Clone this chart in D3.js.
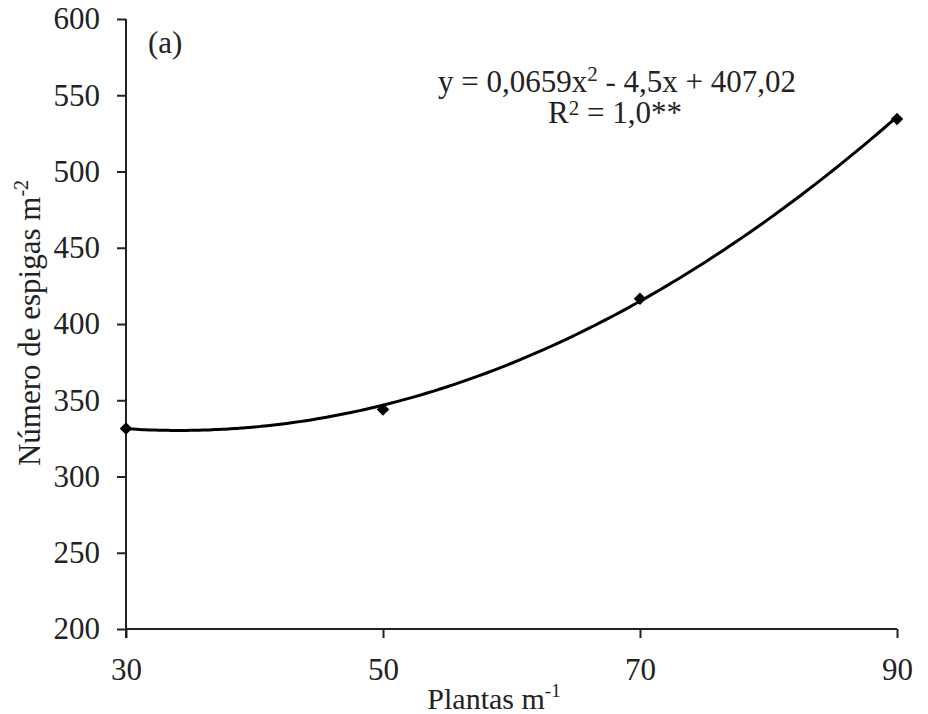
<!DOCTYPE html>
<html>
<head>
<meta charset="utf-8">
<script src="https://cdn.jsdelivr.net/npm/d3@7"></script>
<style>
  body { margin: 0; background: #fff; }
  svg text { font-family: "Liberation Serif", "Times New Roman", serif; fill: #222; }
</style>
</head>
<body>
<div id="chart"></div>
<script>
// observed values
var plantas = [30, 50, 70, 90];
var espigas = [331.5, 344, 416.5, 534.5];

// quadratic fit shown on chart: y = a x^2 + b x + c
var fitCoef = [0.0659, -4.5, 407.02];

var xTicks = [30, 50, 70, 90];
var yTicks = [200, 250, 300, 350, 400, 450, 500, 550, 600];

var width = 928;
var height = 714;
var margin = {left: 126, right: 31, top: 19, bottom: 85};

var svg = d3.select("#chart")
            .append("svg")
            .attr("width", width)
            .attr("height", height);

var x = d3.scaleLinear()
          .domain([30, 90])
          .range([margin.left, width - margin.right]);
var y = d3.scaleLinear()
          .domain([200, 600])
          .range([height - margin.bottom, margin.top]);

// axes
var xAxis = d3.axisBottom(x).tickValues(xTicks).tickSize(9).tickSizeOuter(0).tickPadding(20);
var yAxis = d3.axisLeft(y).tickValues(yTicks).tickSize(9).tickSizeOuter(0).tickPadding(17);

var gx = svg.append("g")
            .attr("transform", "translate(0," + y(200) + ")")
            .call(xAxis);
var gy = svg.append("g")
            .attr("transform", "translate(" + x(30) + ",0)")
            .call(yAxis);

[gx, gy].forEach(function(g) {
  g.selectAll("path, line").attr("stroke", "#222").attr("stroke-width", 2);
  g.selectAll("text").style("font-size", "31px").attr("fill", "#222");
});
gy.select(".domain").attr("d", "M0," + y(600) + "V" + (y(200) + 9));
gx.select(".domain").attr("d", "M" + x(30) + ",0H" + x(90));

// fitted curve
var curvePts = d3.range(30, 90.01, 0.5).map(function(v) {
  return [v, fitCoef[0] * v * v + fitCoef[1] * v + fitCoef[2]];
});
var line = d3.line()
             .x(function(d) { return x(d[0]); })
             .y(function(d) { return y(d[1]); })
             .curve(d3.curveBasis);
svg.append("path")
   .datum(curvePts)
   .attr("d", line)
   .attr("fill", "none")
   .attr("stroke", "#000")
   .attr("stroke-width", 3);

// points
var diamond = d3.symbol().type(d3.symbolDiamond2).size(100);
svg.selectAll("path.pt")
   .data(plantas)
   .enter()
   .append("path")
   .attr("class", "pt")
   .attr("d", diamond)
   .attr("transform", function(d, i) { return "translate(" + x(d) + "," + y(espigas[i]) + ")"; })
   .attr("fill", "#000");

// panel label
svg.append("text")
   .attr("x", 148)
   .attr("y", 53)
   .style("font-size", "31px")
   .text("(a)");

// equation
var eq = svg.append("text")
            .attr("x", 617)
            .attr("y", 92)
            .attr("text-anchor", "middle")
            .style("font-size", "31px");
eq.append("tspan").text("y = 0,0659x");
eq.append("tspan").attr("dy", -11).style("font-size", "21px").text("2");
eq.append("tspan").attr("dy", 11).text(" - 4,5x + 407,02");

var r2 = svg.append("text")
            .attr("x", 615)
            .attr("y", 123)
            .attr("text-anchor", "middle")
            .style("font-size", "31px");
r2.append("tspan").text("R");
r2.append("tspan").attr("dy", -8).style("font-size", "21px").text("2");
r2.append("tspan").attr("dy", 8).text(" = 1,0**");

// axis titles
var xt = svg.append("text")
            .attr("x", 494)
            .attr("y", 709)
            .attr("text-anchor", "middle")
            .style("font-size", "30px");
xt.append("tspan").text("Plantas m");
xt.append("tspan").attr("dy", -12).style("font-size", "19px").text("-1");

var yt = svg.append("text")
            .attr("transform", "translate(40," + 323 + ") rotate(-90)")
            .attr("text-anchor", "middle")
            .style("font-size", "31px");
yt.append("tspan").text("Número de espigas m");
yt.append("tspan").attr("dy", -12).style("font-size", "20px").text("-2");
</script>
</body>
</html>
